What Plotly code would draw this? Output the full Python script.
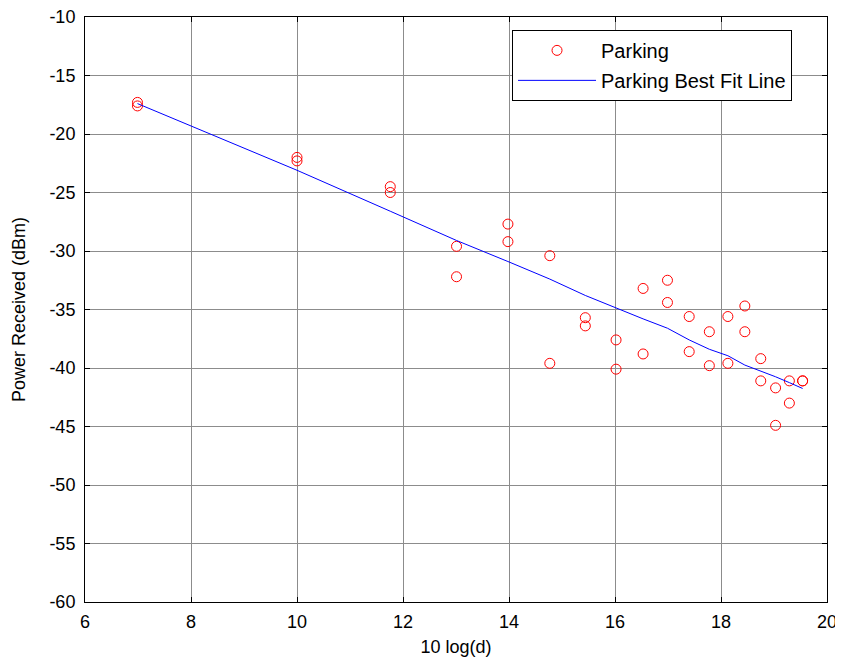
import plotly.graph_objects as go

# x positions, 10 log(d)
x_levels = [6.99, 10.0, 11.76, 13.01, 13.98, 14.77, 15.44, 16.02, 16.53,
            16.99, 17.40, 17.78, 18.13, 18.45, 18.75, 19.03, 19.29, 19.54]
# two measurements per level (dBm)
meas_a = [-17.3, -22.0, -24.5, -29.6, -27.7, -30.4, -35.7, -37.6, -33.2,
          -32.5, -35.6, -36.9, -35.6, -34.7, -39.2, -41.7, -41.1, -41.1]
meas_b = [-17.6, -22.3, -25.0, -32.2, -29.2, -39.6, -36.4, -40.1, -38.8,
          -34.4, -38.6, -39.8, -39.6, -36.9, -41.1, -44.9, -43.0, -41.1]
# best fit line values at each level
fit_y = [-17.4, -23.1, -26.6, -29.1, -30.9, -32.4, -33.8, -34.9, -35.8,
         -36.6, -37.6, -38.4, -38.95, -39.75, -40.25, -40.75, -41.25, -41.75]

x_ticks = [6, 8, 10, 12, 14, 16, 18, 20]
x_tick_text = ["6", "8", "10", "12", "14", "16", "18", "20"]
y_ticks = [-60, -55, -50, -45, -40, -35, -30, -25, -20, -15, -10]
y_tick_text = ["-60", "-55", "-50", "-45", "-40", "-35", "-30", "-25", "-20", "-15", "-10"]

x_pts = []
y_pts = []
for xv, a, b in zip(x_levels, meas_a, meas_b):
    x_pts += [xv, xv]
    y_pts += [a, b]

FONT = "Liberation Sans, Arial"

fig = go.Figure()
fig.add_trace(go.Scatter(
    x=x_pts, y=y_pts, mode="markers", name="Parking", legendgroup="a",
    marker=dict(symbol="circle-open", size=10, color="#ff0000",
                line=dict(width=1, color="#ff0000")),
))
fig.add_trace(go.Scatter(
    x=x_levels, y=fit_y, mode="lines", name="Parking Best Fit Line", legendgroup="b",
    line=dict(color="#0000ff", width=1),
))

axis_common = dict(
    showline=True, linecolor="black", linewidth=1, mirror="ticks",
    ticks="inside", ticklen=5, tickcolor="black",
    showgrid=True, gridcolor="#8c8c8c", gridwidth=1,
    zeroline=False, automargin=False, ticklabeloverflow="allow",
    tickfont=dict(family=FONT, size=18, color="black"),
)

fig.update_xaxes(range=[6, 20], tickvals=x_ticks, ticktext=x_tick_text,
                 ticklabelstandoff=3,
                 title=dict(text="10 log(d)", standoff=9,
                            font=dict(family=FONT, size=18, color="black")),
                 **axis_common)
fig.update_yaxes(range=[-60, -10], tickvals=y_ticks, ticktext=y_tick_text,
                 ticklabelstandoff=5,
                 title=dict(text="Power Received (dBm)", standoff=19,
                            font=dict(family=FONT, size=18, color="black")),
                 **axis_common)

# the page body has an 8px margin, so the figure is sized/offset to compensate
fig.update_layout(
    width=835, height=654,
    margin=dict(l=77, r=16, t=9, b=60),
    plot_bgcolor="white", paper_bgcolor="white",
    showlegend=True,
    legend=dict(x=0.5755, y=0.978, xanchor="left", yanchor="top",
                bgcolor="white", bordercolor="black", borderwidth=1,
                font=dict(family=FONT, size=20, color="black"),
                traceorder="grouped", tracegroupgap=1, itemwidth=78),
)

fig.write_html("out.html")
